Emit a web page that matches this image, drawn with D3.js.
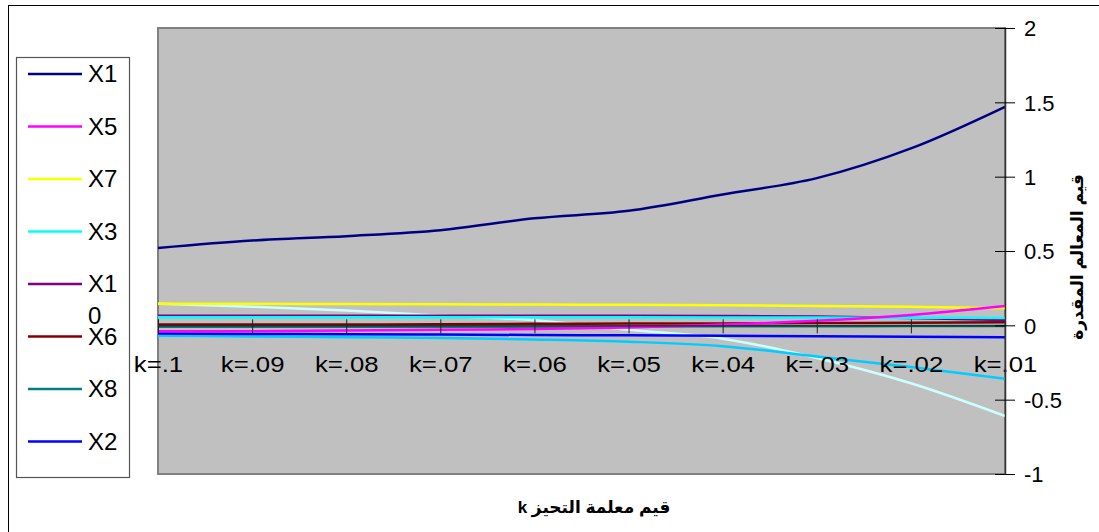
<!DOCTYPE html>
<html><head><meta charset="utf-8">
<script src="https://cdn.jsdelivr.net/npm/d3@7"></script>
<style>body{margin:0;background:#fff} svg{display:block}</style>
</head><body><svg id="c" width="1099" height="532"></svg>
<script>
const categories = ["k=.1","k=.09","k=.08","k=.07","k=.06","k=.05","k=.04","k=.03","k=.02","k=.01"];
const seriesNames = ["X1","X5","X7","X3","X10","X6","X8","X2","X4","X9"];
const seriesColors = ["#000080","#FF00FF","#FFFF00","#00FFFF","#800080","#800000","#008080","#0000FF","#00CCFF","#CCFFFF"];
const X1  = [0.52, 0.57, 0.60, 0.64, 0.72, 0.77, 0.88, 0.99, 1.19, 1.47];
const X5  = [-0.04, -0.04, -0.035, -0.03, -0.025, -0.015, 0.005, 0.03, 0.07, 0.13];
const X7  = [0.145, 0.145, 0.143, 0.142, 0.14, 0.138, 0.135, 0.13, 0.125, 0.115];
const X3  = [0.055, 0.055, 0.055, 0.055, 0.054, 0.054, 0.053, 0.052, 0.051, 0.05];
const X10 = [0.065, 0.065, 0.065, 0.065, 0.065, 0.065, 0.063, 0.06, 0.05, 0.035];
const X6  = [0.005, 0.005, 0.005, 0.008, 0.01, 0.012, 0.013, 0.015, 0.017, 0.02];
const X8  = [-0.01, -0.01, -0.01, -0.01, -0.01, -0.008, -0.007, -0.006, -0.005, -0.005];
const X2  = [-0.055, -0.058, -0.06, -0.062, -0.065, -0.067, -0.07, -0.073, -0.076, -0.08];
const X4  = [-0.07, -0.075, -0.08, -0.085, -0.095, -0.11, -0.14, -0.21, -0.28, -0.36];
const X9  = [0.145, 0.125, 0.1, 0.065, 0.035, -0.03, -0.09, -0.22, -0.39, -0.61];
const seriesValues = [X1, X5, X7, X3, X10, X6, X8, X2, X4, X9];
const yTicks = [-1, -0.5, 0, 0.5, 1, 1.5, 2];
const legendCount = 8;

const svg = d3.select("#c");
const font = "Arial, 'Liberation Sans', 'DejaVu Sans', sans-serif";
const L = 158, R = 1005, T = 28, B = 474;

// outer chart border
svg.append("rect").attr("x", 8.5).attr("y", 5.5).attr("width", 1200).attr("height", 600)
  .attr("fill", "#fff").attr("stroke", "#000").attr("stroke-width", 1);

const x = d3.scalePoint().domain(categories).range([L, R]).padding(0);
const y = d3.scaleLinear().domain([-1, 2]).range([B, T]);

// plot area
svg.append("rect").attr("x", L).attr("y", T).attr("width", R - L).attr("height", B - T)
  .attr("fill", "#C0C0C0").attr("stroke", "#808080").attr("stroke-width", 2);

// series lines
const line = d3.line().x((d, i) => x(categories[i])).y(d => y(d)).curve(d3.curveMonotoneX);
const order = [9, 8, 7, 6, 5, 4, 3, 2, 1, 0];
order.forEach(s => {
  svg.append("path").datum(seriesValues[s]).attr("d", line)
    .attr("fill", "none").attr("stroke", seriesColors[s]).attr("stroke-width", 2.5)
    .attr("stroke-linejoin", "round");
});

// x axis at y=0
const xAxis = svg.append("g").attr("transform", `translate(0,${y(0)})`)
  .call(d3.axisBottom(x).tickSizeInner(8).tickSizeOuter(0));
xAxis.select(".domain").attr("stroke", "#222").attr("stroke-width", 1.2);
xAxis.selectAll(".tick line").attr("y1", -6).attr("y2", 8).attr("stroke", "#222");
xAxis.selectAll(".tick text").attr("y", 372 - y(0)).attr("dy", 0)
  .attr("font-family", font).attr("font-size", 22).attr("fill", "#000")
  .each(function() {
    const w = this.getComputedTextLength();
    d3.select(this).attr("textLength", w * 1.17).attr("lengthAdjust", "spacingAndGlyphs");
  });

// y axis on right
const yAxis = svg.append("g").attr("transform", `translate(${R},0)`)
  .call(d3.axisRight(y).tickValues(yTicks).tickFormat(d => String(d)).tickSizeInner(10).tickSizeOuter(0));
yAxis.select(".domain").attr("stroke", "#333").attr("stroke-width", 1.5);
yAxis.selectAll(".tick line").attr("x1", -10).attr("x2", 10).attr("stroke", "#000");
yAxis.selectAll(".tick text").attr("x", 19).attr("dy", "0.35em")
  .attr("font-family", font).attr("font-size", 22).attr("fill", "#000").attr("text-anchor", "start");

// y axis title
svg.append("text").attr("transform", "translate(1083,257) rotate(-90)")
  .attr("text-anchor", "middle").attr("font-family", font).attr("font-size", 17)
  .attr("font-weight", "bold").text("قيم المعالم المقدرة");

// x axis title
svg.append("text").attr("x", 594).attr("y", 513).attr("direction", "rtl")
  .attr("text-anchor", "middle").attr("font-family", font).attr("font-size", 17)
  .attr("font-weight", "bold").text("قيم معلمة التحيز  k");

// legend
const lg = svg.append("g");
lg.append("rect").attr("x", 16.5).attr("y", 57.5).attr("width", 113).attr("height", 420)
  .attr("fill", "#fff").attr("stroke", "#555").attr("stroke-width", 1.2);
const items = seriesNames.slice(0, legendCount).map((n, i) => ({ n, c: seriesColors[i], i }));
const it = lg.selectAll("g.item").data(items).join("g").attr("class", "item")
  .attr("transform", d => `translate(0,${74 + d.i * 52.5})`);
it.append("line").attr("x1", 28).attr("x2", 82).attr("y1", 0).attr("y2", 0)
  .attr("stroke", d => d.c).attr("stroke-width", 2.5);
it.each(function(d) {
  const g = d3.select(this);
  const parts = d.n.length > 2 ? [d.n.slice(0, 2), d.n.slice(2)] : [d.n];
  parts.forEach((p, k) => {
    g.append("text").attr("x", 88).attr("y", k * 32).attr("dy", "0.35em")
      .attr("font-family", font).attr("font-size", 24).attr("fill", "#000").text(p);
  });
});
</script></body></html>
